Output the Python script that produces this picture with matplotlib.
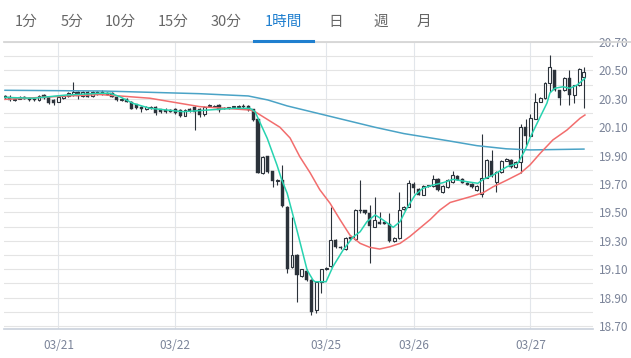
import matplotlib
matplotlib.use('Agg')
import matplotlib.pyplot as plt
from matplotlib.lines import Line2D
from matplotlib.ticker import FormatStrFormatter

plt.rcParams['font.family'] = ['Noto Sans CJK JP', 'DejaVu Sans']

# 1時間足 ローソク (index 0..119)
opens = [20.320, 20.312, 20.292, 20.300, 20.315, 20.305, 20.300, 20.290, 20.325, 20.310,
         20.295, 20.280, 20.305, 20.320, 20.325, 20.345, 20.320, 20.345, 20.320, 20.350,
         20.345, 20.340, 20.340, 20.310, 20.290, 20.300, 20.280, 20.260, 20.240, 20.225,
         20.235, 20.245, 20.225, 20.220, 20.220, 20.225, 20.220, 20.180, 20.225, 20.245,
         20.225, 20.190, 20.250, 20.245, 20.255, 20.235, 20.235, 20.240, 20.245, 20.250,
         20.250, 20.225, 20.155, 19.780, 19.895, 19.790, 19.720, 19.730, 19.540, 19.115,
         19.200, 19.050, 19.090, 19.025, 18.810, 19.010, 19.100, 19.120, 19.305, 19.255,
         19.240, 19.325, 19.310, 19.520, 19.515, 19.495, 19.400, 19.430, 19.430, 19.420,
         19.300, 19.320, 19.525, 19.540, 19.700, 19.665, 19.625, 19.685, 19.685, 19.735,
         19.645, 19.680, 19.715, 19.755, 19.735, 19.710, 19.700, 19.655, 19.630, 19.745,
         19.865, 19.715, 19.785, 19.865, 19.870, 19.820, 19.855, 20.100, 20.040, 20.160,
         20.280, 20.305, 20.410, 20.500, 20.360, 20.360, 20.450, 20.325, 20.395, 20.455]
highs = [20.330, 20.330, 20.306, 20.322, 20.320, 20.310, 20.306, 20.326, 20.336, 20.315,
         20.300, 20.315, 20.326, 20.345, 20.420, 20.352, 20.356, 20.352, 20.356, 20.355,
         20.362, 20.348, 20.346, 20.315, 20.305, 20.306, 20.284, 20.265, 20.246, 20.246,
         20.246, 20.250, 20.230, 20.232, 20.225, 20.232, 20.226, 20.226, 20.232, 20.250,
         20.232, 20.250, 20.262, 20.258, 20.262, 20.240, 20.245, 20.250, 20.255, 20.262,
         20.258, 20.230, 20.160, 19.900, 19.900, 19.795, 19.735, 19.835, 19.545, 19.470,
         19.205, 19.105, 19.100, 19.030, 19.015, 19.105, 19.115, 19.535, 19.310, 19.265,
         19.325, 19.330, 19.525, 19.730, 19.520, 19.550, 19.610, 19.500, 19.435, 19.495,
         19.325, 19.645, 19.545, 19.730, 19.715, 19.670, 19.690, 19.695, 19.765, 19.740,
         19.690, 19.735, 19.790, 19.760, 19.740, 19.715, 19.705, 19.690, 20.055, 19.875,
         19.940, 19.790, 19.870, 19.885, 19.875, 19.860, 20.125, 20.155, 20.190, 20.340,
         20.310, 20.415, 20.610, 20.505, 20.365, 20.455, 20.500, 20.400, 20.515, 20.525]
lows = [20.300, 20.288, 20.288, 20.296, 20.298, 20.288, 20.286, 20.286, 20.300, 20.262,
        20.258, 20.275, 20.300, 20.315, 20.318, 20.300, 20.315, 20.310, 20.316, 20.330,
        20.330, 20.326, 20.310, 20.285, 20.286, 20.275, 20.225, 20.230, 20.210, 20.220,
        20.230, 20.185, 20.200, 20.200, 20.205, 20.196, 20.175, 20.176, 20.210, 20.080,
        20.170, 20.180, 20.245, 20.240, 20.210, 20.225, 20.230, 20.236, 20.240, 20.238,
        20.215, 20.145, 19.775, 19.770, 19.780, 19.680, 19.690, 19.540, 19.070, 19.110,
        18.870, 19.045, 19.020, 18.780, 18.790, 18.930, 19.095, 19.115, 19.250, 19.245,
        19.235, 19.305, 19.305, 19.495, 19.490, 19.145, 19.395, 19.415, 19.415, 19.295,
        19.295, 19.315, 19.520, 19.535, 19.635, 19.620, 19.620, 19.680, 19.680, 19.650,
        19.640, 19.675, 19.710, 19.725, 19.705, 19.690, 19.670, 19.650, 19.610, 19.740,
        19.750, 19.645, 19.780, 19.860, 19.815, 19.815, 19.780, 19.975, 20.035, 20.155,
        20.275, 20.300, 20.350, 20.355, 20.255, 20.355, 20.255, 20.270, 20.390, 20.235]
closes = [20.304, 20.292, 20.300, 20.315, 20.302, 20.292, 20.290, 20.320, 20.305, 20.272,
          20.268, 20.310, 20.322, 20.340, 20.345, 20.320, 20.350, 20.315, 20.350, 20.335,
          20.335, 20.330, 20.315, 20.290, 20.300, 20.280, 20.230, 20.235, 20.225, 20.240,
          20.240, 20.200, 20.205, 20.210, 20.210, 20.200, 20.180, 20.220, 20.215, 20.210,
          20.185, 20.240, 20.255, 20.250, 20.220, 20.230, 20.240, 20.245, 20.250, 20.245,
          20.220, 20.150, 19.780, 19.890, 19.785, 19.720, 19.725, 19.545, 19.105, 19.200,
          19.060, 19.100, 19.025, 18.800, 19.010, 19.100, 19.110, 19.305, 19.255, 19.250,
          19.320, 19.310, 19.520, 19.510, 19.495, 19.405, 19.445, 19.420, 19.420, 19.300,
          19.320, 19.520, 19.540, 19.705, 19.670, 19.625, 19.685, 19.690, 19.735, 19.655,
          19.685, 19.730, 19.765, 19.730, 19.710, 19.695, 19.680, 19.685, 19.745, 19.870,
          19.755, 19.785, 19.865, 19.875, 19.820, 19.855, 20.100, 20.040, 20.165, 20.280,
          20.305, 20.410, 20.525, 20.360, 20.305, 20.450, 20.325, 20.395, 20.510, 20.490]

# 移動平均線 (読み取り値)
ma_short_x = [0, 5.8, 12.7, 19.5, 21.6, 23.6, 26.3, 29.8, 33.3, 36.6, 40, 46.9, 50.4, 51.4,
              53.9, 55.9, 56.9, 58, 60, 62.1, 63.3, 63.7, 66, 67.4, 69.5, 71.5, 73, 74.4,
              76.1, 77.7, 79.8, 81.2, 82.6, 84.3, 85.9, 88, 90, 92.1, 95, 97.2, 98.3, 100.3,
              103.2, 105.4, 106.9, 107.9, 109.3, 111.4, 112, 113, 114.7, 116.1, 117.6, 119.2]
ma_short = [20.310, 20.304, 20.327, 20.339, 20.339, 20.315, 20.268, 20.233, 20.221, 20.209,
            20.217, 20.233, 20.233, 20.209, 20.022, 19.834, 19.728, 19.635, 19.376, 19.094,
            19.024, 19.012, 19.012, 19.118, 19.235, 19.325, 19.364, 19.435, 19.482, 19.447,
            19.395, 19.435, 19.529, 19.623, 19.670, 19.693, 19.709, 19.733, 19.716, 19.705,
            19.733, 19.763, 19.822, 19.846, 19.939, 20.024, 20.123, 20.270, 20.341, 20.374,
            20.385, 20.374, 20.397, 20.444]
ma_mid_x = [0, 12.7, 19.5, 23.6, 29.8, 40, 50.4, 51.4, 56.5, 58.6, 60.6, 62.7, 64.7, 66.8,
            68.9, 70.9, 73, 75, 77, 79.1, 81.2, 83.2, 85.3, 87.4, 89.4, 91.5, 95.6, 98.3,
            100.3, 103.2, 105.9, 107.9, 110, 112.6, 115.5, 118.2, 119.2]
ma_mid = [20.296, 20.320, 20.330, 20.320, 20.304, 20.245, 20.221, 20.209, 20.100, 20.024,
          19.892, 19.780, 19.660, 19.565, 19.447, 19.340, 19.282, 19.254, 19.242, 19.258,
          19.282, 19.330, 19.390, 19.450, 19.517, 19.570, 19.610, 19.639, 19.680, 19.728,
          19.775, 19.834, 19.916, 20.010, 20.080, 20.163, 20.186]
ma_long_x = [0, 20, 40, 50, 54, 58, 64, 70, 76, 82, 91, 97, 103, 108, 119]
ma_long = [20.360, 20.355, 20.336, 20.320, 20.292, 20.250, 20.200, 20.150, 20.100, 20.055,
           20.005, 19.970, 19.948, 19.940, 19.946]

date_pos = [11, 35, 66, 84, 108]
date_labels = ['03/21', '03/22', '03/25', '03/26', '03/27']
tabs = ['1分', '5分', '10分', '15分', '30分', '1時間', '日', '週', '月']
tab_x = [26, 71.5, 120.5, 173.5, 226.5, 283.5, 336, 381, 424]
active_tab = '1時間'

W, H = 631, 358
fig = plt.figure(figsize=(W / 100, H / 100), dpi=100)
fig.patch.set_facecolor('white')
ax = fig.add_axes([4 / W, 1 - 329 / H, 589 / W, 287 / H])

dark = '#2b323a'
for i in range(len(opens)):
    o, h, l, c = opens[i], highs[i], lows[i], closes[i]
    ax.vlines(i, l, h, color=dark, lw=0.8, zorder=3)
    bot = min(o, c)
    ht = max(abs(c - o), 0.006)
    if c >= o:
        ax.bar(i, ht, 0.6, bottom=bot, facecolor='white', edgecolor=dark, lw=0.8, zorder=4)
    else:
        ax.bar(i, ht, 0.66, bottom=bot, facecolor=dark, edgecolor=dark, lw=0.3, zorder=4)

ax.plot(ma_long_x, ma_long, color='#4aa3c6', lw=1.1, zorder=5)
ax.plot(ma_mid_x, ma_mid, color='#f26d6d', lw=1.1, zorder=5)
ax.plot(ma_short_x, ma_short, color='#27d3b0', lw=1.1, zorder=5)

ax.set_xlim(-0.2, 120.86)
ax.set_ylim(18.679, 20.70)
ax.set_yticks([18.7 + 0.2 * k for k in range(11)])
ax.set_yticks([18.8 + 0.2 * k for k in range(10)], minor=True)
ax.yaxis.set_major_formatter(FormatStrFormatter('%.2f'))
ax.set_xticks(date_pos)
ax.set_xticklabels(date_labels)
ax.yaxis.tick_right()
ax.tick_params(axis='y', which='both', length=0, pad=4, labelsize=8.5, labelcolor='#7b8499')
ax.tick_params(axis='x', length=0, pad=7, labelsize=8.5, labelcolor='#7b8499')
ax.grid(True, which='both', axis='y', color='#e4e4e4', lw=0.8)
ax.grid(True, axis='x', color='#e2e6eb', lw=0.8)
ax.set_axisbelow(True)
for s in ['top', 'left', 'right']:
    ax.spines[s].set_visible(False)
ax.spines['bottom'].set_color('#c9d1dc')
ax.spines['bottom'].set_linewidth(1.2)

# タブ
for t, x in zip(tabs, tab_x):
    col = '#1f7fcf' if t == active_tab else '#666666'
    fig.text(x / W, 1 - 22 / H, t, ha='center', va='center', fontsize=10.5, color=col)
fig.add_artist(Line2D([4 / W, 1], [1 - 42 / H] * 2, color='#d6d6d6', lw=1.3))
fig.add_artist(Line2D([254 / W, 313 / W], [1 - 40.5 / H] * 2, color='#1f7fcf', lw=2.2))

fig.savefig('out.png', dpi=100)
